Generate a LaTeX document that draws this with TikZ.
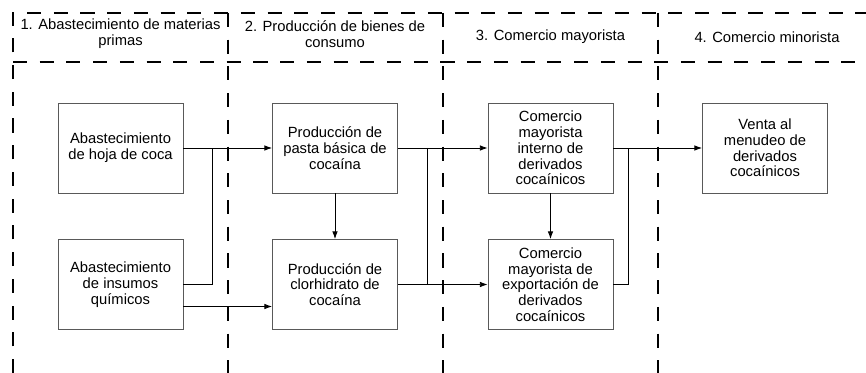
\documentclass[tikz,border=0pt]{standalone}
\usepackage{fontspec}
\setmainfont{Liberation Sans}
\usetikzlibrary{arrows.meta}
\tikzset{
  etapa/.style={draw=black!65,line width=0.6pt,minimum width=3.125cm,minimum height=2.25cm,align=center,inner sep=0pt},
  flecha/.style={line width=0.6pt,-{Latex[length=5.5pt,width=4pt]}},
  linea/.style={line width=0.6pt},
  corte/.style={line width=1.4pt,dash pattern=on 10pt off 9pt},
  titulo/.style={align=center,inner sep=0pt}
}
\begin{document}
\begin{tikzpicture}[x=0.025cm,y=-0.025cm]
\fontsize{10.5}{11.2}\selectfont
\useasboundingbox (0,0) rectangle (866,373);
% columnas
\draw[corte] (13,373) -- (13,13) -- (866,13);
\draw[corte] (13,62) -- (866,62);
\draw[corte] (228,13) -- (228,373);
\draw[corte] (443,13) -- (443,373);
\draw[corte] (658,13) -- (658,373);
\node[titulo] (t1) at (120.5,34) {1. Abastecimiento de materias\\primas};
\node[titulo] (t2) at (335,34) {2. Producción de bienes de\\consumo};
\node[titulo] (t3) at (550.5,37) {3. Comercio mayorista};
\node[titulo] (t4) at (767,37) {4. Comercio minorista};
% etapas
\node[etapa] (hoja) at (120.5,148) {Abastecimiento\\de hoja de coca};
\node[etapa] (insumos) at (120.5,284.5) {Abastecimiento\\de insumos\\químicos};
\node[etapa] (pasta) at (335,148) {Producción de\\pasta básica de\\cocaína};
\node[etapa] (clorh) at (335,284.5) {Producción de\\clorhidrato de\\cocaína};
\node[etapa] (interno) at (550.5,148) {Comercio\\mayorista\\interno de\\derivados\\cocaínicos};
\node[etapa] (export) at (550.5,284.5) {Comercio\\mayorista de\\exportación de\\derivados\\cocaínicos};
\node[etapa] (venta) at (765,148) {Venta al\\menudeo de\\derivados\\cocaínicos};
% uniones
\coordinate (u1) at (212,148);
\coordinate (u2) at (427,148);
\coordinate (u3) at (427,284.5);
\coordinate (u4) at (628,148);
\draw[flecha] (hoja.east) -- (pasta.west);
\draw[linea] (insumos.east) -| (u1);
\draw[flecha] ([yshift=-0.55cm]insumos.east) -- ([yshift=-0.55cm]clorh.west);
\draw[flecha] (pasta.south) -- (clorh.north);
\draw[flecha] (pasta.east) -- (interno.west);
\draw[flecha] (clorh.east) -- (export.west);
\draw[linea] (u2) -- (u3);
\draw[flecha] (interno.south) -- (export.north);
\draw[flecha] (interno.east) -- (venta.west);
\draw[linea] (export.east) -| (u4);
\end{tikzpicture}
\end{document}
